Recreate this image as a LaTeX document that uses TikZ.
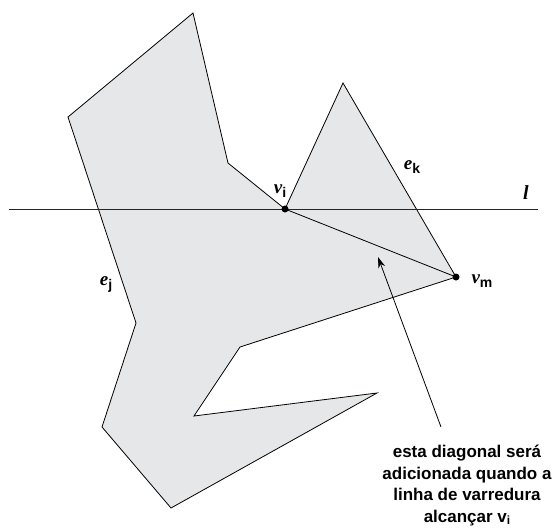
\documentclass[tikz,border=0pt]{standalone}
\usepackage{fontspec}
\setmainfont{Liberation Serif}
\setsansfont{Liberation Sans}
\usetikzlibrary{arrows.meta}

\definecolor{polyfill}{RGB}{230,231,232}
\newcommand{\vlbl}[2]{{\fontsize{19}{19}\selectfont\bfseries\itshape #1}\raisebox{-4pt}{\fontsize{14}{14}\selectfont\sffamily\bfseries #2}}

\begin{document}
\begin{tikzpicture}[
        x=1pt, y=-1pt,
        poly/.style={draw=black, fill=polyfill, line width=0.8pt},
        sweep/.style={draw=black!85, line width=0.8pt},
        vertex/.style={circle, fill=black, inner sep=0pt, minimum size=7pt},
        lbl/.style={inner sep=0pt},
        arrow/.style={line width=0.8pt, -{Stealth[length=11pt, width=7pt]}},
        note/.style={align=center, inner sep=0pt, font=\fontsize{17}{21.5}\selectfont\sffamily\bfseries}
    ]
        \useasboundingbox (0,0) rectangle (557,528);

        % Vertices
        \coordinate (top) at (193,13);
        \coordinate (ul) at (68,117);
        \coordinate (ml) at (136,323);
        \coordinate (ll) at (102,427);
        \coordinate (bot) at (171,508);
        \coordinate (spike) at (377,393);
        \coordinate (notch) at (194,416);
        \coordinate (inner) at (240,347);
        \coordinate (vm) at (456,277);
        \coordinate (peak) at (343,83);
        \coordinate (vi) at (285,209);
        \coordinate (cusp) at (228,163);
        \coordinate (lstart) at (9,209);
        \coordinate (lend) at (538,209);
        \coordinate (tail) at (441,427);
        \coordinate (tip) at (378,257);

        % Polygon
        \draw[poly] (top) -- (ul) -- (ml) -- (ll) -- (bot) -- (spike) -- (notch) -- (inner)
            -- (vm) -- (peak) -- (vi) -- (cusp) -- cycle;

        % Sweep line and diagonal
        \draw[sweep] (lstart) -- (lend);
        \draw[poly] (vi) -- (vm);
        \node (vidot) [vertex] at (vi) {};
        \node (vmdot) [vertex] at (vm) {};

        % Labels
        \node (vilbl) [lbl] at (280,191) {\vlbl{v}{i}};
        \node (vmlbl) [lbl] at (482,281) {\vlbl{v}{m}};
        \node (eklbl) [lbl] at (412,167) {\vlbl{e}{k}};
        \node (ejlbl) [lbl] at (106,284) {\vlbl{e}{j}};
        \node (llbl) [lbl] at (526,193) {\fontsize{20}{20}\selectfont\bfseries\itshape l};

        % Note
        \node (note) [note, anchor=north] at (467,445)
            {esta diagonal será\\adicionada quando a\\linha de varredura\\alcançar v\raisebox{-2pt}{\fontsize{12}{12}\selectfont i}};
        \draw [arrow] (tail) -- (tip);
\end{tikzpicture}
\end{document}
